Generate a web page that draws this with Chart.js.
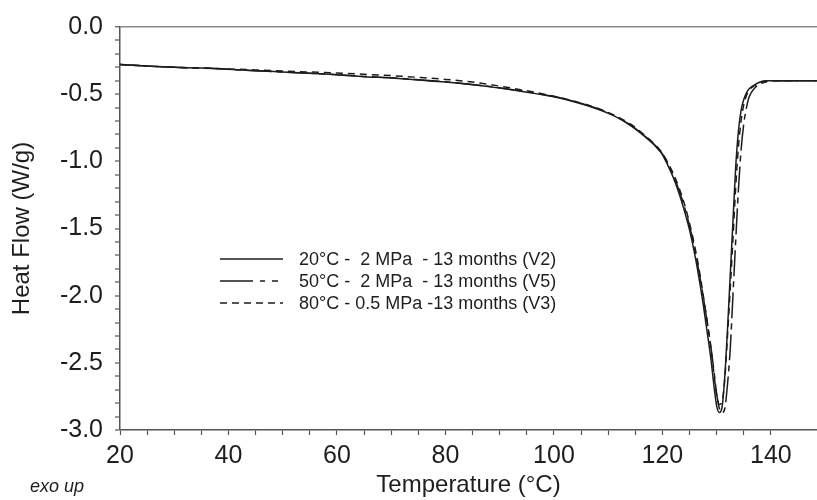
<!DOCTYPE html>
<html>
<head>
<meta charset="utf-8">
<script src="https://cdn.jsdelivr.net/npm/chart.js@4/dist/chart.umd.min.js"></script>
<style>
html,body{margin:0;padding:0;background:#fff;}
#wrap{width:817px;height:500px;position:relative;}
</style>
</head>
<body>
<div id="wrap"><canvas id="c" width="817" height="500"></canvas></div>
<script>
// Temperature (°C)
const temperature = [20,25,30,35,40,45,50,55,60,65,70,75,80,85,90,95,100,104,108,111,114,116,118,119,120,121,122,123,124,125,126,127,127.5,128,128.5,129,129.5,130,130.5,131,131.5,132,132.5,133,133.5,134,134.5,135,135.5,136,137,138,139,140,142,145,148.5];
// Heat flow (W/g)
const flowV2 = [-0.28,-0.29,-0.30,-0.305,-0.315,-0.325,-0.335,-0.345,-0.355,-0.37,-0.38,-0.395,-0.41,-0.43,-0.455,-0.485,-0.52,-0.56,-0.61,-0.66,-0.73,-0.79,-0.86,-0.90,-0.95,-1.03,-1.12,-1.23,-1.36,-1.51,-1.70,-1.93,-2.06,-2.20,-2.34,-2.49,-2.67,-2.82,-2.87,-2.83,-2.60,-2.25,-1.85,-1.45,-1.05,-0.78,-0.62,-0.54,-0.49,-0.46,-0.43,-0.41,-0.40,-0.40,-0.40,-0.40,-0.40];
const flowV5 = [-0.28,-0.29,-0.30,-0.305,-0.315,-0.325,-0.335,-0.345,-0.355,-0.368,-0.378,-0.392,-0.408,-0.428,-0.452,-0.482,-0.518,-0.557,-0.607,-0.657,-0.727,-0.787,-0.855,-0.895,-0.945,-1.02,-1.10,-1.21,-1.33,-1.48,-1.66,-1.88,-2.00,-2.13,-2.26,-2.40,-2.56,-2.73,-2.84,-2.87,-2.84,-2.66,-2.40,-2.00,-1.60,-1.22,-0.92,-0.72,-0.60,-0.52,-0.455,-0.425,-0.41,-0.40,-0.40,-0.40,-0.40];
const flowV3 = [-0.28,-0.29,-0.30,-0.305,-0.312,-0.32,-0.328,-0.335,-0.343,-0.352,-0.362,-0.375,-0.39,-0.41,-0.44,-0.475,-0.515,-0.555,-0.605,-0.655,-0.72,-0.78,-0.85,-0.89,-0.94,-1.01,-1.09,-1.19,-1.31,-1.46,-1.64,-1.86,-1.99,-2.12,-2.26,-2.41,-2.58,-2.74,-2.81,-2.79,-2.62,-2.30,-1.95,-1.58,-1.20,-0.90,-0.70,-0.58,-0.51,-0.47,-0.435,-0.415,-0.405,-0.40,-0.40,-0.40,-0.40];
const seriesLabels = ["20°C -  2 MPa  - 13 months (V2)", "50°C -  2 MPa  - 13 months (V5)", "80°C - 0.5 MPa -13 months (V3)"];
const xMin = 20, xMax = 148.5, yMin = -3.0, yMax = 0.0;

const ink = '#1c1c1c';
const axisCol = '#555';
function pts(vals){ return temperature.map((t,i)=>({x:t,y:vals[i]})); }

const legendPlugin = {
  id: 'insideLegend',
  afterDraw(chart){
    const ctx = chart.ctx;
    const rows = [259, 281, 303];
    ctx.save();
    ctx.font = '18px "Liberation Sans", Arial, sans-serif';
    ctx.textBaseline = 'middle';
    ctx.fillStyle = '#1e1e1e';
    [0,1,2].forEach((di,r)=>{
      const ds = chart.data.datasets.find(d=>d.label===seriesLabels[di]);
      const y = rows[r];
      ctx.strokeStyle = ink;
      ctx.lineWidth = 1.6;
      ctx.setLineDash(ds.legendDash || []);
      ctx.beginPath(); ctx.moveTo(220,y); ctx.lineTo(283,y); ctx.stroke();
      ctx.setLineDash([]);
      ctx.fillText(ds.label, 299, y+1);
    });
    ctx.font = 'italic 18px "Liberation Sans", Arial, sans-serif';
    ctx.fillText('exo up', 30, 487);
    ctx.restore();
  }
};

new Chart(document.getElementById('c'), {
  type: 'line',
  data: {
    datasets: [
      {label: seriesLabels[2], data: pts(flowV3), borderColor: ink, borderWidth: 1.5, borderDash: [7,5], legendDash: [7,5], pointRadius: 0, fill: false, cubicInterpolationMode: 'monotone', order: 3},
      {label: seriesLabels[1], data: pts(flowV5), borderColor: ink, borderWidth: 1.5, borderDash: [26,5,6,5], legendDash: [33,7,5,7,6,7], pointRadius: 0, fill: false, cubicInterpolationMode: 'monotone', order: 2},
      {label: seriesLabels[0], data: pts(flowV2), borderColor: ink, borderWidth: 1.5, pointRadius: 0, fill: false, cubicInterpolationMode: 'monotone', order: 1}
    ]
  },
  options: {
    responsive: false,
    animation: false,
    devicePixelRatio: 1,
    layout: {padding: {top: 20, right: 0, left: 0, bottom: 0}},
    plugins: {legend: {display: false}, tooltip: {enabled: false}},
    scales: {
      x: {
        type: 'linear', min: xMin, max: xMax,
        afterFit(s){ s.height = 70; },
        afterBuildTicks(s){ s.ticks = s.ticks.filter(t => Math.abs(t.value - Math.round(t.value/5)*5) < 1e-6); },
        ticks: {
          stepSize: 5, autoSkip: false, maxRotation: 0, padding: 6,
          color: '#1e1e1e', font: {family: '"Liberation Sans", Arial, sans-serif', size: 25},
          callback: v => (Math.round(v) % 20 === 0 ? String(Math.round(v)) : '')
        },
        grid: {drawOnChartArea: false, tickLength: 5, tickColor: axisCol, tickWidth: 1.2},
        border: {display: true, color: axisCol, width: 1.5},
        title: {display: true, text: 'Temperature (°C)', color: '#1e1e1e', padding: {top: 0, bottom: 0},
                font: {family: '"Liberation Sans", Arial, sans-serif', size: 24}}
      },
      y: {
        type: 'linear', min: yMin, max: yMax,
        afterFit(s){ s.width = 120; },
        ticks: {
          stepSize: 0.1, autoSkip: false, padding: 12,
          color: '#1e1e1e', font: {family: '"Liberation Sans", Arial, sans-serif', size: 25},
          callback: v => (Math.abs(Math.round(v*10)) % 5 === 0 ? (Math.round(v*10)/10).toFixed(1) : '')
        },
        grid: {
          drawOnChartArea: true, tickLength: 5, tickColor: axisCol, tickWidth: 1.2,
          color: c => (c.tick && Math.abs(c.tick.value) < 1e-9 ? '#888' : 'rgba(0,0,0,0)'),
          lineWidth: c => (c.tick && Math.abs(c.tick.value) < 1e-9 ? 1.5 : 0)
        },
        border: {display: true, color: axisCol, width: 1.5},
        title: {display: true, text: 'Heat Flow (W/g)', color: '#1e1e1e', padding: {top: 8, bottom: 0},
                font: {family: '"Liberation Sans", Arial, sans-serif', size: 24}}
      }
    }
  },
  plugins: [legendPlugin]
});
</script>
</body>
</html>
